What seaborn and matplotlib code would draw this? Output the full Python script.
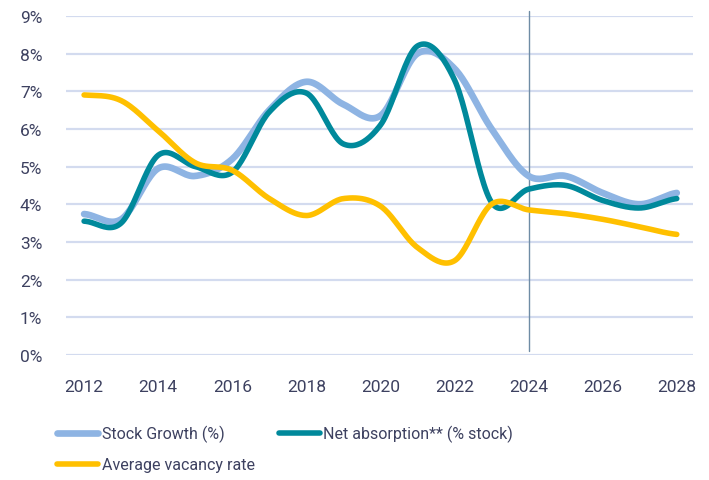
import matplotlib
matplotlib.use('Agg')
import matplotlib.pyplot as plt
import seaborn as sns
import numpy as np
import pandas as pd

years = list(range(2012, 2029))
stock_growth = [3.74, 3.6, 4.95, 4.75, 5.2, 6.5, 7.25, 6.65, 6.35, 8.0, 7.6, 6.0, 4.75, 4.75, 4.3, 4.0, 4.3]
net_absorption = [3.55, 3.5, 5.3, 5.0, 4.85, 6.45, 6.95, 5.6, 6.1, 8.2, 7.3, 4.05, 4.4, 4.5, 4.1, 3.9, 4.15]
vacancy_rate = [6.9, 6.75, 5.95, 5.1, 4.9, 4.15, 3.7, 4.15, 3.95, 2.85, 2.5, 4.0, 3.85, 3.75, 3.6, 3.4, 3.2]
y_ticks = list(range(0, 10))

TEXT_COLOR = '#3d4160'
GRID_COLOR = '#d3dbef'


def smooth(x, y, steps=24):
    # Catmull-Rom curve through the yearly points (like Excel "smoothed line")
    x = np.asarray(x, dtype=float)
    p = np.concatenate([[y[0]], y, [y[-1]]]).astype(float)
    xs, ys = [], []
    for i in range(len(x) - 1):
        p0, p1, p2, p3 = p[i], p[i + 1], p[i + 2], p[i + 3]
        t = np.linspace(0, 1, steps, endpoint=False)
        yy = 0.5 * (2 * p1 + (-p0 + p2) * t + (2 * p0 - 5 * p1 + 4 * p2 - p3) * t ** 2
                    + (-p0 + 3 * p1 - 3 * p2 + p3) * t ** 3)
        xs.append(x[i] + t * (x[i + 1] - x[i]))
        ys.append(yy)
    xs.append([x[-1]])
    ys.append([y[-1]])
    return np.concatenate(xs), np.concatenate(ys)


sns.set_theme(style='white')
plt.rcParams['font.family'] = ['Roboto', 'DejaVu Sans']

series = [
    ('Stock Growth (%)', stock_growth, '#8eb4e3', 4.8),
    ('Net absorption** (% stock)', net_absorption, '#00899b', 4.0),
    ('Average vacancy rate', vacancy_rate, '#ffc000', 4.0),
]

frames = []
for name, vals, _, _ in series:
    sx, sy = smooth(years, vals)
    frames.append(pd.DataFrame({'year': sx, 'value': sy, 'series': name}))
df = pd.concat(frames, ignore_index=True)

fig = plt.figure(figsize=(7.09, 4.81), dpi=100)
ax = fig.add_axes([0.093, 0.26, 0.884, 0.705])

for y in y_ticks:
    ax.axhline(y, color=GRID_COLOR, linewidth=1.6, zorder=0)

handles = {}
for name, _, color, lw in series:
    sub = df[df['series'] == name]
    sns.lineplot(data=sub, x='year', y='value', ax=ax, color=color, linewidth=lw,
                 sort=False, solid_capstyle='round', label=name, legend=False)
    handles[name] = ax.lines[-1]

ax.plot([2024, 2024], [0.1, 9.13], color='#6f8ca5', linewidth=1.0, clip_on=False, zorder=1)

ax.set_xlim(2011.51, 2028.43)
ax.set_ylim(0, 9)
ax.set_xticks(range(2012, 2029, 2))
ax.set_yticks(y_ticks)
ax.set_yticklabels([f'{v}%' for v in y_ticks])
ax.tick_params(axis='both', length=0, labelsize=12.5, labelcolor=TEXT_COLOR)
ax.tick_params(axis='y', pad=17)
ax.tick_params(axis='x', pad=17)
ax.set_xlabel('')
ax.set_ylabel('')
sns.despine(ax=ax, left=True, bottom=True)

order = ['Stock Growth (%)', 'Average vacancy rate', 'Net absorption** (% stock)']
leg = fig.legend([handles[n] for n in order], order, ncol=2, loc='upper left',
                 bbox_to_anchor=(0.069, 0.131), frameon=False, fontsize=11.5,
                 handlelength=2.6, handletextpad=0.2, columnspacing=1.5,
                 labelspacing=0.95, borderpad=0)
for t in leg.get_texts():
    t.set_color(TEXT_COLOR)

plt.savefig('out.png', dpi=100, facecolor='white')
